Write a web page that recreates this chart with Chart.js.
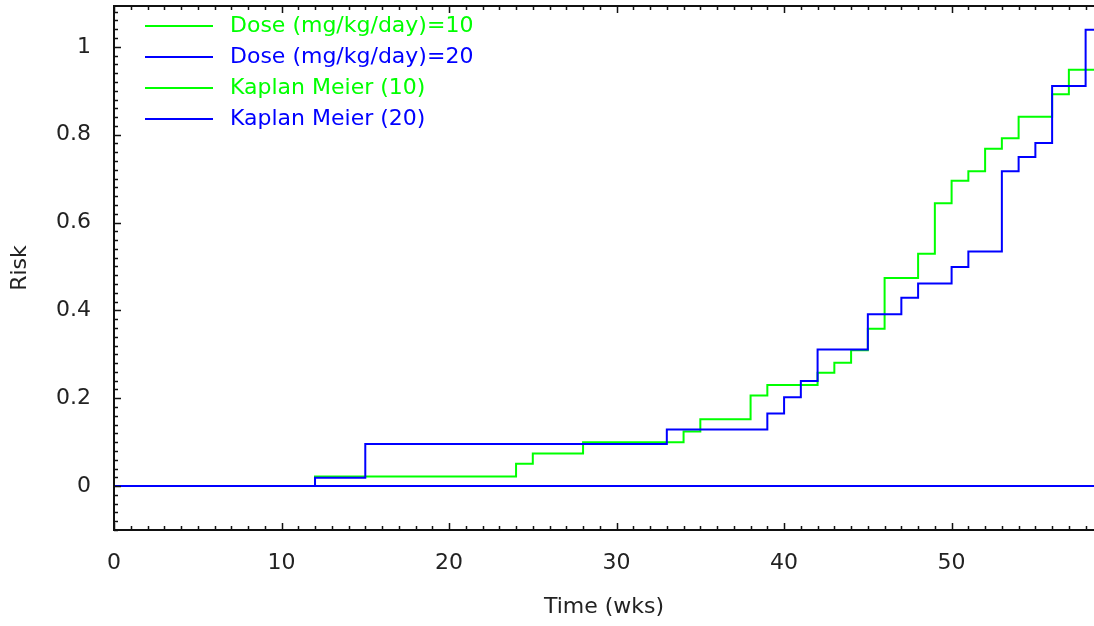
<!DOCTYPE html>
<html>
<head>
<meta charset="utf-8">
<title>Risk vs time</title>
<script src="https://cdn.jsdelivr.net/npm/chart.js@4.4.1/dist/chart.umd.min.js"></script>
<style>
  body { margin: 0; background: #fff; }
  #riskChart { display: block; }
</style>
</head>
<body>
<canvas id="riskChart" width="1094" height="626"></canvas>
<script>
// values
const xEnd = 58.5;
const doseWeeks = [0, xEnd];
const dose10Risk = [0, 0];
const dose20Risk = [0, 0];

const km10Weeks = [0, 12, 24, 25, 28, 34, 35, 38, 39, 42, 43, 44, 45, 46, 48, 49, 50, 51, 52, 53, 54, 56, 57, xEnd];
const km10Risk = [0, 0.022, 0.051, 0.074, 0.100, 0.124, 0.152, 0.206, 0.230, 0.258, 0.281, 0.309, 0.358, 0.474, 0.529, 0.644, 0.695, 0.717, 0.768, 0.792, 0.841, 0.892, 0.948, 0.948];

const km20Weeks = [0, 12, 15, 33, 39, 40, 41, 42, 45, 47, 48, 50, 51, 53, 54, 55, 56, 58, xEnd];
const km20Risk = [0, 0.019, 0.096, 0.129, 0.165, 0.202, 0.239, 0.311, 0.391, 0.429, 0.461, 0.499, 0.534, 0.717, 0.749, 0.781, 0.911, 1.039, 1.039];

const xTicks = [0, 10, 20, 30, 40, 50];
const yTicks = [0, 0.2, 0.4, 0.6, 0.8, 1];
const seriesNames = ['Dose (mg/kg/day)=10', 'Dose (mg/kg/day)=20', 'Kaplan Meier (10)', 'Kaplan Meier (20)'];

const GREEN = '#00ff00';
const BLUE = '#0000ff';
const FONT = "'DejaVu Sans', sans-serif";

function toPoints(xs, ys) {
    return xs.map((x, i) => ({ x: x, y: ys[i] }));
}

// axes box, inward ticks and the legend inside the plot
const framePlugin = {
    id: 'frame',
    afterDraw(chart) {
        const c = chart.ctx;
        const a = chart.chartArea;
        const xs = chart.scales.x;
        const ys = chart.scales.y;
        c.save();
        c.strokeStyle = '#111';
        c.lineWidth = 2;
        c.beginPath();
        c.moveTo(a.right + 2, a.top);
        c.lineTo(a.left, a.top);
        c.lineTo(a.left, a.bottom);
        c.lineTo(a.right + 2, a.bottom);
        c.stroke();

        c.lineWidth = 1.5;
        c.beginPath();
        for (let v = 0; v <= xEnd; v += 1) {
            const px = Math.round(xs.getPixelForValue(v)) + 0.5;
            const len = v % 10 === 0 ? 7 : 4;
            c.moveTo(px, a.bottom);
            c.lineTo(px, a.bottom - len);
            c.moveTo(px, a.top);
            c.lineTo(px, a.top + len);
        }
        for (let i = -5; i <= 54; i++) {
            const v = i * 0.02;
            const py = Math.round(ys.getPixelForValue(v)) + 0.5;
            const len = i % 10 === 0 ? 7 : 4;
            c.moveTo(a.left, py);
            c.lineTo(a.left + len, py);
        }
        c.stroke();

        // legend
        const colors = [GREEN, BLUE, GREEN, BLUE];
        c.font = '22px ' + FONT;
        c.textBaseline = 'middle';
        c.textAlign = 'left';
        c.lineWidth = 2;
        seriesNames.forEach((name, i) => {
            const y = a.top + 20 + i * 31;
            c.strokeStyle = colors[i];
            c.beginPath();
            c.moveTo(a.left + 31, y);
            c.lineTo(a.left + 99, y);
            c.stroke();
            c.fillStyle = colors[i];
            c.fillText(name, a.left + 116, y);
        });
        c.restore();
    }
};

function noPad(s) {
    s.paddingTop = 0;
    s.paddingBottom = 0;
    s.paddingLeft = 0;
    s.paddingRight = 0;
}

const ctx = document.getElementById('riskChart').getContext('2d');
const riskChart = new Chart(ctx, {
    type: 'line',
    data: {
        datasets: [
            { label: seriesNames[0], data: toPoints(doseWeeks, dose10Risk), borderColor: GREEN, order: 4 },
            { label: seriesNames[1], data: toPoints(doseWeeks, dose20Risk), borderColor: BLUE, order: 2 },
            { label: seriesNames[2], data: toPoints(km10Weeks, km10Risk), borderColor: GREEN, stepped: 'before', order: 3 },
            { label: seriesNames[3], data: toPoints(km20Weeks, km20Risk), borderColor: BLUE, stepped: 'before', order: 1 }
        ]
    },
    options: {
        responsive: false,
        animation: false,
        layout: { padding: { top: 6, right: 0, left: 0, bottom: 0 } },
        elements: {
            line: { borderWidth: 2, tension: 0, fill: false },
            point: { radius: 0 }
        },
        plugins: {
            legend: { display: false },
            tooltip: { enabled: false }
        },
        scales: {
            x: {
                type: 'linear',
                min: 0,
                max: xEnd,
                border: { display: false },
                grid: { display: false, drawTicks: false },
                afterBuildTicks: s => { s.ticks = xTicks.map(v => ({ value: v })); },
                afterFit: s => { s.height = 96; noPad(s); },
                ticks: {
                    color: '#222',
                    font: { family: FONT, size: 22 },
                    padding: 20,
                    maxRotation: 0
                },
                title: {
                    display: true,
                    text: 'Time (wks)',
                    color: '#222',
                    font: { family: FONT, size: 22 },
                    padding: { top: 0, bottom: 6 }
                }
            },
            y: {
                type: 'linear',
                min: -0.1,
                max: 1.093,
                border: { display: false },
                grid: { display: false, drawTicks: false },
                afterBuildTicks: s => { s.ticks = yTicks.map(v => ({ value: v })); },
                afterFit: s => { s.width = 114; noPad(s); },
                ticks: {
                    color: '#222',
                    font: { family: FONT, size: 22 },
                    padding: 23,
                    callback: v => String(Math.round(v * 10) / 10)
                },
                title: {
                    display: true,
                    text: 'Risk',
                    color: '#222',
                    font: { family: FONT, size: 22 },
                    padding: { top: 7, bottom: 0 }
                }
            }
        }
    },
    plugins: [framePlugin]
});
</script>
</body>
</html>
